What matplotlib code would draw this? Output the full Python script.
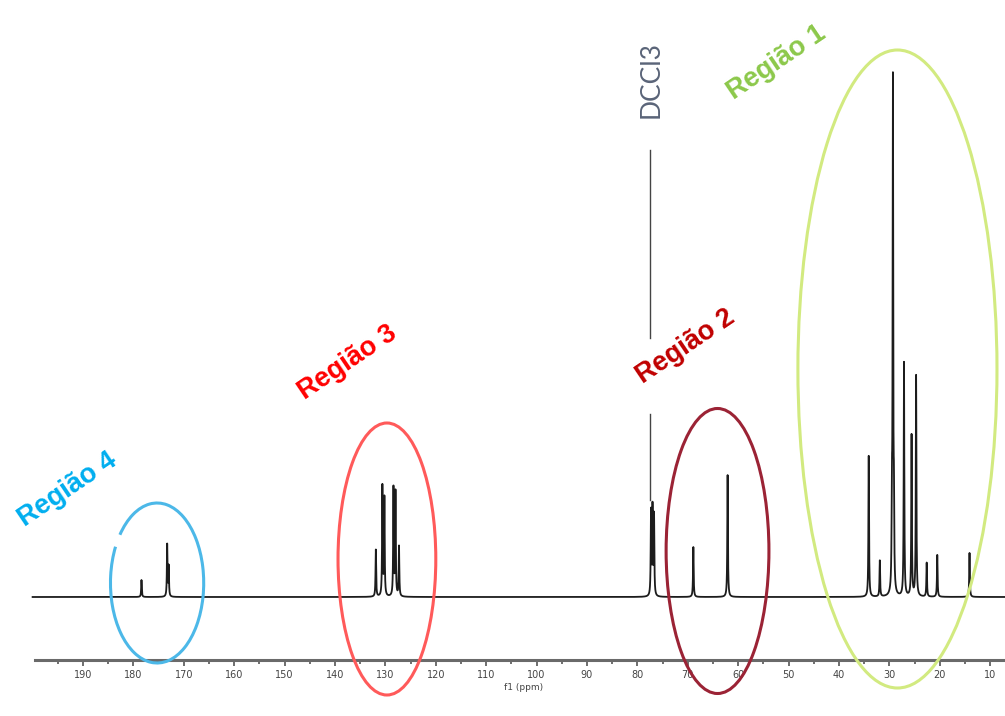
import numpy as np
import matplotlib
matplotlib.use("Agg")
import matplotlib.pyplot as plt
from matplotlib.patches import Ellipse, Arc

# 13C NMR peaks: chemical shift (ppm) and relative intensity
shifts = [178.4, 173.3, 173.0,
          131.9, 130.6, 130.2, 128.4, 128.0, 127.3,
          77.3, 77.0, 76.7,
          68.9, 62.1,
          34.1, 31.9, 29.5, 29.3, 29.1, 27.1, 25.6, 24.7, 22.6, 20.5, 14.1]
intensities = [17, 52, 30,
               47, 110, 98, 108, 104, 50,
               84, 87, 80,
               50, 122,
               141, 36, 80, 508, 75, 234, 161, 221, 34, 42, 44]

major_ticks = [190, 180, 170, 160, 150, 140, 130, 120, 110, 100, 90, 80, 70, 60, 50, 40, 30, 20, 10]

# Highlighted regions: label, centre shift, centre intensity, width (ppm), height, colour
region_names = ["Região 1", "Região 2", "Região 3", "Região 4"]
region_centers_ppm = [28.4, 64.1, 129.7, 175.3]
region_centers_int = [228, 46, 38, 14]
region_widths = [39.5, 20.4, 19.4, 18.5]
region_heights = [638, 285, 272, 160]
ellipse_colors = ["#d2ea80", "#9b2335", "#ff5a5a", "#4cb8e8"]
label_colors = ["#8cc84a", "#c00000", "#ff0000", "#00aeef"]
label_ppm = [52.3, 70.5, 137.6, 193.0]
label_int = [534, 250, 234, 107]

# Spectrum on a fine grid of Lorentzian lines
ppm = np.linspace(200, 5, 30000)
hw = 0.07
spec = np.zeros_like(ppm)
for s, h in zip(shifts, intensities):
    spec += h * hw**2 / ((ppm - s) ** 2 + hw**2)

fig = plt.figure(figsize=(10.05, 7.16), dpi=100)
ax = fig.add_axes([0, 0, 1, 1])
ax.set_xlim(206.47, 7.06)
ax.set_ylim(-119, 597)

ax.plot(ppm, spec, color="#1c1c1c", lw=1.3, zorder=3)

# solvent marker line (interrupted around the region label)
ax.plot([77.4, 77.4], [447, 259], color="#444444", lw=1.0)
ax.plot([77.4, 77.4], [183, 97], color="#444444", lw=1.0)
ax.text(77.3, 517, "DCCl3", rotation=90, ha="center", va="center",
        fontsize=19, color="#5a6478", family="Lato")

for name, cx, cy, w, h, ec, lc, lx, ly in zip(
        region_names, region_centers_ppm, region_centers_int, region_widths,
        region_heights, ellipse_colors, label_colors, label_ppm, label_int):
    if name == "Região 4":
        # this outline has a small break at its upper left
        ax.add_patch(Arc((cx, cy), w, h, theta1=81.3, theta2=437.2,
                         edgecolor=ec, lw=2.2, zorder=4))
    else:
        ax.add_patch(Ellipse((cx, cy), w, h, fill=False, edgecolor=ec, lw=2.2, zorder=4))
    ax.text(lx, ly, name, rotation=34, ha="center", va="center", fontsize=19.5,
            fontweight="bold", color=lc, family="Liberation Sans", zorder=5,
            rotation_mode="anchor")

# ppm axis
for side in ["top", "left", "right"]:
    ax.spines[side].set_visible(False)
ax.spines["bottom"].set_position(("data", -63))
ax.spines["bottom"].set_bounds(199.5, 7.06)
ax.spines["bottom"].set_color("#6a6a6a")
ax.spines["bottom"].set_linewidth(2.2)
ax.set_xticks(major_ticks)
ax.set_xticks(np.arange(195, 5, -5), minor=True)
ax.tick_params(axis="x", which="major", direction="out", length=4, width=1.2,
               color="#555555", labelsize=7, labelcolor="#444444", pad=3)
ax.tick_params(axis="x", which="minor", direction="out", length=3, width=1.2, color="#555555")
ax.set_yticks([])
ax.text(102.6, -91, "f1 (ppm)", ha="center", va="center", fontsize=6.5, color="#444444")

fig.savefig("out.png", dpi=100)
